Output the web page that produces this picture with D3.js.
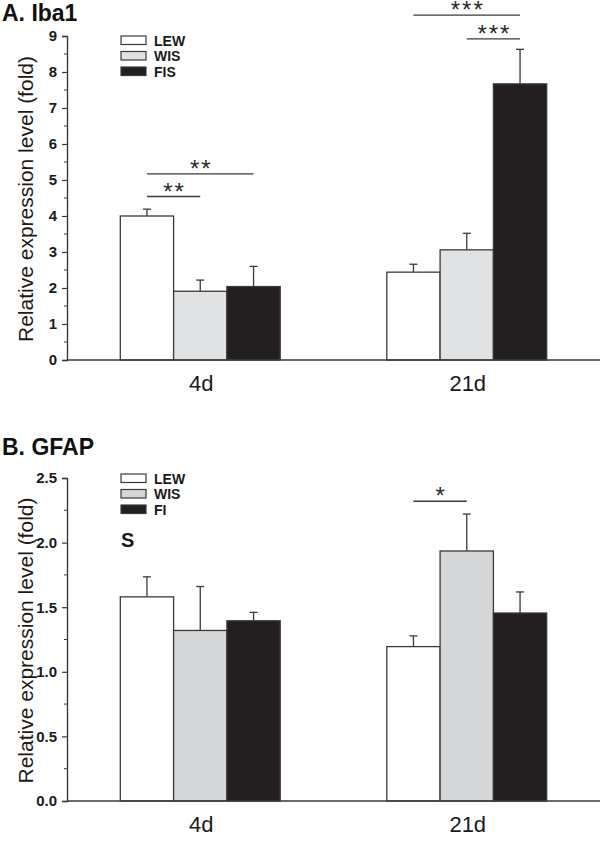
<!DOCTYPE html>
<html><head><meta charset="utf-8">
<script src="https://cdn.jsdelivr.net/npm/d3@7"></script>
<style>body{margin:0;background:#fff}svg{display:block}text{font-family:"Liberation Sans",Arial,sans-serif}</style>
</head><body><svg id="c" width="600" height="841"></svg>
<script>
const categories = ["4d", "21d"];
const groups = ["LEW", "WIS", "FIS"];
// Panel A: Iba1
const ibaMeans = { "4d": [4.0, 1.91, 2.04], "21d": [2.44, 3.06, 7.67] };
const ibaErr   = { "4d": [0.19, 0.31, 0.56], "21d": [0.22, 0.46, 0.96] };
const ibaTicks = [0,1,2,3,4,5,6,7,8,9];
const ibaSig = [
  {cat:"4d", a:"LEW", b:"FIS", y:5.17, label:"**"},
  {cat:"4d", a:"LEW", b:"WIS", y:4.54, label:"**"},
  {cat:"21d", a:"LEW", b:"FIS", y:9.58, label:"***"},
  {cat:"21d", a:"WIS", b:"FIS", y:8.92, label:"***"}
];
// Panel B: GFAP
const gfapMeans = { "4d": [1.58, 1.32, 1.395], "21d": [1.195, 1.935, 1.455] };
const gfapErr   = { "4d": [0.155, 0.34, 0.065], "21d": [0.083, 0.286, 0.163] };
const gfapTicks = [0, 0.5, 1.0, 1.5, 2.0, 2.5];
const gfapSig = [ {cat:"21d", a:"LEW", b:"WIS", y:2.32, label:"*"} ];
const legendA = ["LEW", "WIS", "FIS"];
const legendB = ["LEW", "WIS", "FI"];

const svg = d3.select("#c");
const stroke = "#3a3a3a";

function panel(o) {
  const g = svg.append("g");
  const x0 = d3.scaleBand().domain(categories).range([67, 600]);
  const x1 = d3.scaleBand().domain(groups).range([0, x0.bandwidth()]).paddingOuter(1);
  const y = d3.scaleLinear().domain([0, o.max]).range([o.bottom, o.top]);
  const color = d3.scaleOrdinal().domain(groups).range(["#ffffff", o.gray, "#231f20"]);

  // title
  g.append("text").attr("x", 2).attr("y", o.titleY).attr("font-size", 23).attr("font-weight", "bold").attr("fill", "#111").text(o.title);

  // y axis major
  const ya = g.append("g").attr("transform", "translate(67,0)")
    .call(d3.axisLeft(y).tickValues(o.ticks).tickFormat(o.fmt).tickSize(5).tickPadding(5));
  ya.select(".domain").attr("stroke", stroke).attr("stroke-width", 1.4);
  ya.selectAll(".tick line").attr("stroke", stroke).attr("stroke-width", 1.2);
  ya.selectAll(".tick text").attr("font-size", 15).attr("font-weight", "bold").attr("fill", "#1a1a1a")
    .attr("font-family", "Liberation Sans, Arial, sans-serif");
  // minor ticks
  const minor = d3.range(0, o.ticks.length - 1).map(i => (o.ticks[i] + o.ticks[i+1]) / 2);
  g.append("g").selectAll("line").data(minor).join("line")
    .attr("x1", 64).attr("x2", 67).attr("y1", d => y(d)).attr("y2", d => y(d))
    .attr("stroke", stroke).attr("stroke-width", 1);

  // y label
  g.append("text").attr("transform", `translate(33,${(o.top + o.bottom) / 2 + 1}) rotate(-90)`)
    .attr("text-anchor", "middle").attr("font-size", 21).attr("fill", "#1a1a1a")
    .text("Relative expression level (fold)");

  // bars
  categories.forEach(cat => {
    const cg = g.append("g").attr("transform", `translate(${x0(cat)},0)`);
    const data = groups.map((k, i) => ({k, v: o.means[cat][i], e: o.err[cat][i]}));
    cg.selectAll("line.err").data(data).join("line").attr("class", "err")
      .attr("x1", d => x1(d.k) + x1.bandwidth() / 2).attr("x2", d => x1(d.k) + x1.bandwidth() / 2)
      .attr("y1", d => y(d.v)).attr("y2", d => y(d.v + d.e)).attr("stroke", stroke).attr("stroke-width", 1.3);
    cg.selectAll("line.cap").data(data).join("line").attr("class", "cap")
      .attr("x1", d => x1(d.k) + x1.bandwidth() / 2 - 4).attr("x2", d => x1(d.k) + x1.bandwidth() / 2 + 4)
      .attr("y1", d => y(d.v + d.e)).attr("y2", d => y(d.v + d.e)).attr("stroke", stroke).attr("stroke-width", 1.3);
    cg.selectAll("rect").data(data).join("rect")
      .attr("x", d => x1(d.k)).attr("width", x1.bandwidth())
      .attr("y", d => y(d.v)).attr("height", d => y(0) - y(d.v))
      .attr("fill", d => color(d.k)).attr("stroke", stroke).attr("stroke-width", 1.3);
  });

  // x axis
  g.append("line").attr("x1", 67).attr("x2", 600).attr("y1", y(0)).attr("y2", y(0)).attr("stroke", stroke).attr("stroke-width", 1.4);
  g.selectAll("text.cat").data(categories).join("text").attr("class", "cat")
    .attr("x", d => x0(d) + x0.bandwidth() / 2 + 1).attr("y", y(0) + 31)
    .attr("text-anchor", "middle").attr("font-size", 22).attr("fill", "#1a1a1a").text(d => d);

  // significance
  o.sig.forEach(s => {
    const xa = x0(s.cat) + x1(s.a) + x1.bandwidth() / 2;
    const xb = x0(s.cat) + x1(s.b) + x1.bandwidth() / 2;
    g.append("line").attr("x1", xa).attr("x2", xb).attr("y1", y(s.y)).attr("y2", y(s.y))
      .attr("stroke", stroke).attr("stroke-width", 1.4);
    g.append("text").attr("x", (xa + xb) / 2 + 1).attr("y", y(s.y) + 3).attr("text-anchor", "middle")
      .attr("font-size", 24).attr("letter-spacing", 2).attr("fill", "#2a2a2a").text(s.label);
  });

  // legend
  const lg = g.append("g");
  o.legend.forEach((name, i) => {
    const yy = o.legY + i * o.legStep;
    lg.append("rect").attr("x", 121).attr("y", yy).attr("width", 25).attr("height", 8.5)
      .attr("fill", color(groups[i])).attr("stroke", stroke).attr("stroke-width", 1.2);
    lg.append("text").attr("x", 154).attr("y", yy + 9.5).attr("font-size", 14).attr("font-weight", "bold")
      .attr("fill", "#1a1a1a").text(name);
  });
  return {g, x0, x1, y};
}

panel({title: "A. Iba1", titleY: 21, max: 9, top: 36, bottom: 360, ticks: ibaTicks, fmt: d3.format("d"),
  means: ibaMeans, err: ibaErr, sig: ibaSig, gray: "#e1e2e4", legend: legendA, legY: 36, legStep: 15.5});
const pB = panel({title: "B. GFAP", titleY: 455, max: 2.5, top: 478, bottom: 801, ticks: gfapTicks, fmt: d3.format(".1f"),
  means: gfapMeans, err: gfapErr, sig: gfapSig, gray: "#d5d6d8", legend: legendB, legY: 474, legStep: 15.5});
pB.g.append("text").attr("x", 121).attr("y", 547).attr("font-size", 20).attr("font-weight", "bold").attr("fill", "#1a1a1a").text("S");
</script></body></html>
